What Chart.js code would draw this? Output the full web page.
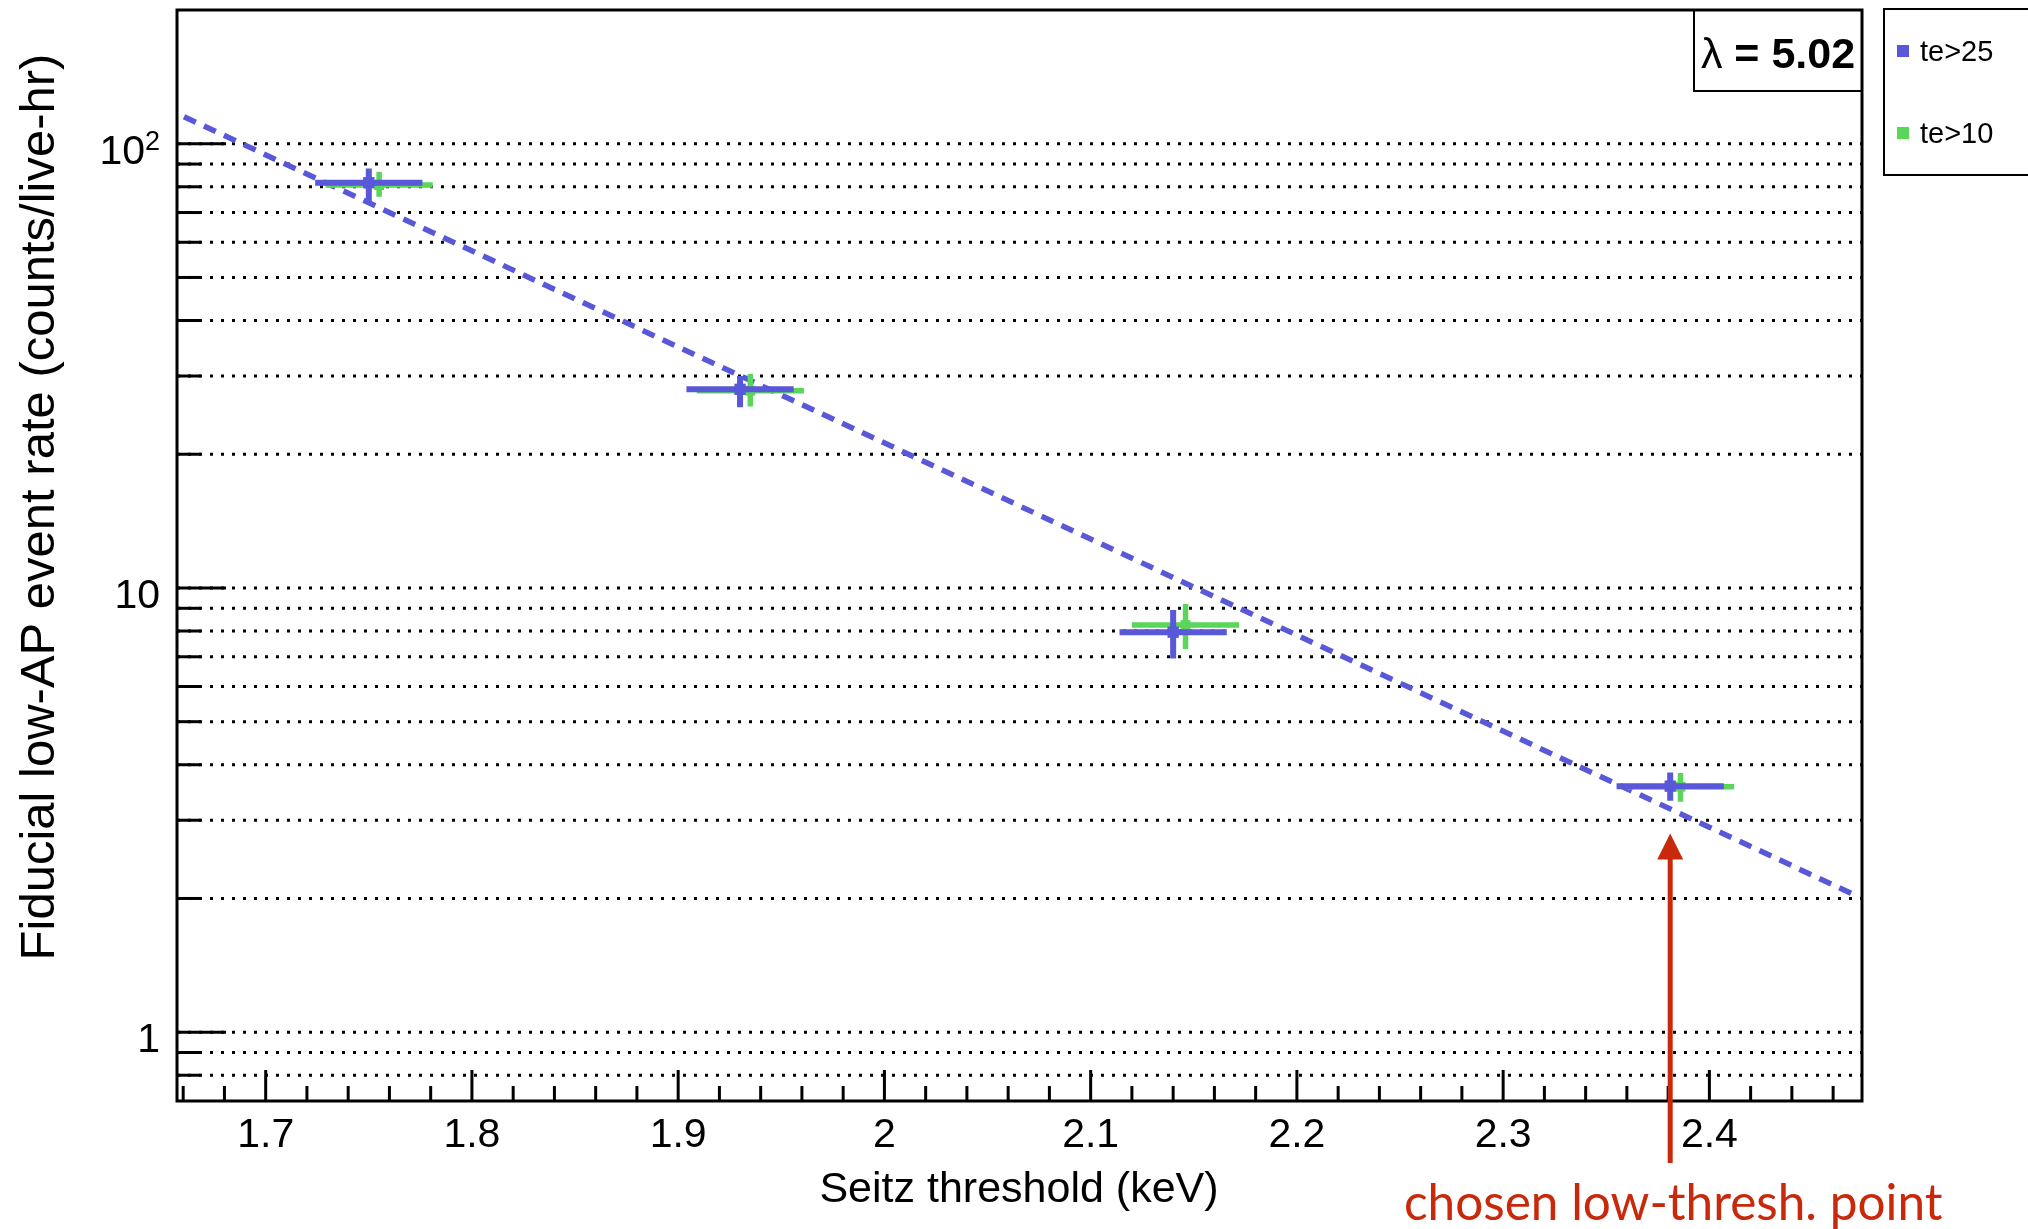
<!DOCTYPE html>
<html>
<head>
<meta charset="utf-8">
<script src="https://cdn.jsdelivr.net/npm/chart.js@4.4.0/dist/chart.umd.min.js"></script>
<style>
  html, body { margin: 0; padding: 0; background: #fff; }
  #wrap { width: 2028px; height: 1229px; }
</style>
</head>
<body>
<div id="wrap"><canvas id="rateChart" width="2028" height="1229"></canvas></div>
<script>
// Seitz threshold (keV) vs fiducial low-AP rate (counts/live-hr)
const blueX = [1.750, 1.930, 2.140, 2.381];
const blueY = [81.7, 28.0, 7.95, 3.58];
const blueYLow = [73.4, 25.5, 6.94, 3.32];
const blueYHigh = [88.0, 30.0, 8.92, 3.84];
const blueXErr = [0.026, 0.026, 0.026, 0.026];

const greenX = [1.755, 1.935, 2.146, 2.386];
const greenY = [80.7, 27.8, 8.25, 3.57];
const greenYLow = [76.0, 25.6, 7.28, 3.30];
const greenYHigh = [86.5, 30.3, 9.20, 3.83];
const greenXErr = [0.026, 0.026, 0.026, 0.026];

// exponential fit, drawn between its two end points
const fitX = [1.6604, 2.4692];
const fitY = [115.0, 2.05];
const lambdaValue = '5.02';

const seriesLabels = ['te>25', 'te>10'];

const xTickValues = [1.7, 1.8, 1.9, 2.0, 2.1, 2.2, 2.3, 2.4];
const xTickLabels = ['1.7', '1.8', '1.9', '2', '2.1', '2.2', '2.3', '2.4'];
const yMajorValues = [1, 10, 100];
const yMajorLabels = ['1', '10', '10^2'];
const yMinorValues = [0.8, 0.9, 2, 3, 4, 5, 6, 7, 8, 9, 20, 30, 40, 50, 60, 70, 80, 90];

// annotation arrow: chosen point
const chosenX = 2.381;
const chosenTipY = 2.8;
const chosenText = 'chosen low-thresh. point';

const BLUE = '#5858d8';
const GREEN = '#5ad65a';
const RED = '#c8290b';
const SANS = '"Liberation Sans", Arial, sans-serif';

function hBars(xs, ys, xe) {
  const out = [];
  xs.forEach((x, i) => {
    out.push({ x: x - xe[i], y: ys[i] }, { x: x + xe[i], y: ys[i] }, { x: x + xe[i], y: null });
  });
  return out;
}
function vBars(xs, lo, hi) {
  const out = [];
  xs.forEach((x, i) => {
    out.push({ x: x, y: lo[i] }, { x: x, y: hi[i] }, { x: x, y: null });
  });
  return out;
}
function pts(xs, ys) {
  return xs.map((x, i) => ({ x: x, y: ys[i] }));
}

const barStyle = (color, w) => ({
  type: 'line', showLine: true, borderColor: color, borderWidth: w,
  pointRadius: 0, spanGaps: false, fill: false, tension: 0
});

const rootStyle = {
  id: 'rootStyle',
  beforeDatasetsDraw(chart) {
    const { ctx, chartArea: ca } = chart;
    const ys = chart.scales.y;
    ctx.save();
    ctx.strokeStyle = '#000';
    ctx.lineWidth = 3;
    ctx.setLineDash([3, 8]);
    yMajorValues.concat(yMinorValues).forEach(v => {
      const py = ys.getPixelForValue(v);
      ctx.beginPath();
      ctx.moveTo(ca.left, py);
      ctx.lineTo(ca.right, py);
      ctx.stroke();
    });
    ctx.restore();
  },
  afterDatasetsDraw(chart) {
    const { ctx, chartArea: ca } = chart;
    const xs = chart.scales.x, ys = chart.scales.y;
    const line = (x1, y1, x2, y2) => { ctx.beginPath(); ctx.moveTo(x1, y1); ctx.lineTo(x2, y2); ctx.stroke(); };
    ctx.save();
    ctx.setLineDash([]);
    ctx.strokeStyle = '#000';
    ctx.fillStyle = '#000';

    // frame
    ctx.lineWidth = 3;
    ctx.strokeRect(ca.left, ca.top, ca.right - ca.left, ca.bottom - ca.top);

    // y ticks (inside)
    yMajorValues.forEach(v => { const py = ys.getPixelForValue(v); line(ca.left, py, ca.left + 49, py); });
    yMinorValues.forEach(v => { const py = ys.getPixelForValue(v); line(ca.left, py, ca.left + 24, py); });

    // x ticks (inside), minor every 0.02
    xTickValues.forEach(v => { const px = xs.getPixelForValue(v); line(px, ca.bottom, px, ca.bottom - 31); });
    for (let k = 83; k <= 123; k++) {
      if (k % 5 === 0) continue;
      const px = xs.getPixelForValue(k * 0.02);
      if (px < ca.left || px > ca.right) continue;
      line(px, ca.bottom, px, ca.bottom - 15);
    }

    // x tick labels
    ctx.font = '41px ' + SANS;
    ctx.textAlign = 'center';
    ctx.textBaseline = 'alphabetic';
    xTickValues.forEach((v, i) => {
      ctx.fillText(xTickLabels[i], xs.getPixelForValue(v), ca.bottom + 46);
    });

    // y tick labels, with superscript exponent
    const labelRight = 160;
    yMajorValues.forEach((v, i) => {
      const py = ys.getPixelForValue(v);
      const txt = yMajorLabels[i];
      ctx.textAlign = 'right';
      if (txt.indexOf('^') >= 0) {
        const [base, exp] = txt.split('^');
        ctx.font = '27px ' + SANS;
        const ew = ctx.measureText(exp).width;
        ctx.fillText(exp, labelRight, py + 6);
        ctx.font = '41px ' + SANS;
        ctx.fillText(base, labelRight - ew, py + 20);
      } else {
        ctx.font = '41px ' + SANS;
        ctx.fillText(txt, labelRight, py + 20);
      }
    });

    // axis titles
    ctx.font = '43px ' + SANS;
    ctx.textAlign = 'center';
    ctx.fillText('Seitz threshold (keV)', 1019, 1202);
    ctx.save();
    ctx.translate(54, 507);
    ctx.rotate(-Math.PI / 2);
    ctx.font = '49px ' + SANS;
    ctx.fillText('Fiducial low-AP event rate (counts/live-hr)', 0, 0);
    ctx.restore();

    // lambda box
    ctx.lineWidth = 2;
    ctx.strokeRect(1694, ca.top, ca.right - 1694, 91 - ca.top);
    ctx.font = '43px ' + SANS;
    const lw = ctx.measureText('\u03bb').width;
    ctx.font = 'bold 43px ' + SANS;
    const rest = ' = ' + lambdaValue;
    const rw = ctx.measureText(rest).width;
    const sx = (1694 + ca.right) / 2 - (lw + rw) / 2;
    ctx.textAlign = 'left';
    ctx.font = '43px ' + SANS;
    ctx.fillText('\u03bb', sx, 68);
    ctx.font = 'bold 43px ' + SANS;
    ctx.fillText(rest, sx + lw, 68);

    // legend box (runs off the right edge)
    ctx.lineWidth = 2;
    ctx.strokeRect(1884, 9, 200, 166);
    const legendColors = [BLUE, GREEN];
    const legendY = [51, 133];
    ctx.font = '29px ' + SANS;
    seriesLabels.forEach((lab, i) => {
      ctx.fillStyle = legendColors[i];
      ctx.fillRect(1897, legendY[i] - 6, 12, 12);
      ctx.fillStyle = '#000';
      ctx.fillText(lab, 1920, legendY[i] + 10);
    });

    // red arrow and note
    const ax = xs.getPixelForValue(chosenX);
    const tipY = ys.getPixelForValue(chosenTipY);
    ctx.strokeStyle = RED;
    ctx.fillStyle = RED;
    ctx.lineWidth = 5;
    line(ax, 1163, ax, tipY + 20);
    ctx.beginPath();
    ctx.moveTo(ax, tipY);
    ctx.lineTo(ax - 13, tipY + 26);
    ctx.lineTo(ax + 13, tipY + 26);
    ctx.closePath();
    ctx.fill();
    ctx.font = '100px Lato, "Open Sans", sans-serif';
    const tw = ctx.measureText(chosenText).width;
    const fs = 100 * 538 / tw;
    ctx.font = fs.toFixed(1) + 'px Lato, "Open Sans", sans-serif';
    ctx.textAlign = 'center';
    ctx.fillText(chosenText, ax + 3, 1220);

    ctx.restore();
  }
};

new Chart(document.getElementById('rateChart'), {
  type: 'scatter',
  data: {
    datasets: [
      { label: seriesLabels[0], type: 'scatter', data: pts(blueX, blueY),
        pointStyle: 'rect', pointRadius: 8, backgroundColor: BLUE, borderWidth: 0 },
      Object.assign({ label: 'blue-x', data: hBars(blueX, blueY, blueXErr) }, barStyle(BLUE, 6)),
      Object.assign({ label: 'blue-y', data: vBars(blueX, blueYLow, blueYHigh) }, barStyle(BLUE, 6)),
      { label: seriesLabels[1], type: 'scatter', data: pts(greenX, greenY),
        pointStyle: 'rect', pointRadius: 7, backgroundColor: GREEN, borderWidth: 0 },
      Object.assign({ label: 'green-x', data: hBars(greenX, greenY, greenXErr) }, barStyle(GREEN, 5.5)),
      Object.assign({ label: 'green-y', data: vBars(greenX, greenYLow, greenYHigh) }, barStyle(GREEN, 5.5)),
      Object.assign({ label: 'fit', data: pts(fitX, fitY), borderDash: [13, 9] }, barStyle(BLUE, 5.5))
    ]
  },
  options: {
    responsive: false,
    devicePixelRatio: 1,
    animation: false,
    events: [],
    layout: { padding: { left: 0, right: 166, top: 10, bottom: 0 } },
    plugins: { legend: { display: false }, tooltip: { enabled: false } },
    scales: {
      x: {
        type: 'linear', min: 1.657, max: 2.474,
        grid: { display: false }, border: { display: false }, ticks: { display: false },
        afterBuildTicks: (s) => { s.ticks = xTickValues.map(v => ({ value: v })); },
        afterFit: (s) => { s.height = 128; }
      },
      y: {
        type: 'logarithmic', min: 0.7, max: 200,
        grid: { display: false }, border: { display: false }, ticks: { display: false },
        afterBuildTicks: (s) => { s.ticks = yMajorValues.map(v => ({ value: v })); },
        afterFit: (s) => { s.width = 177; }
      }
    }
  },
  plugins: [rootStyle]
});
</script>
</body>
</html>
